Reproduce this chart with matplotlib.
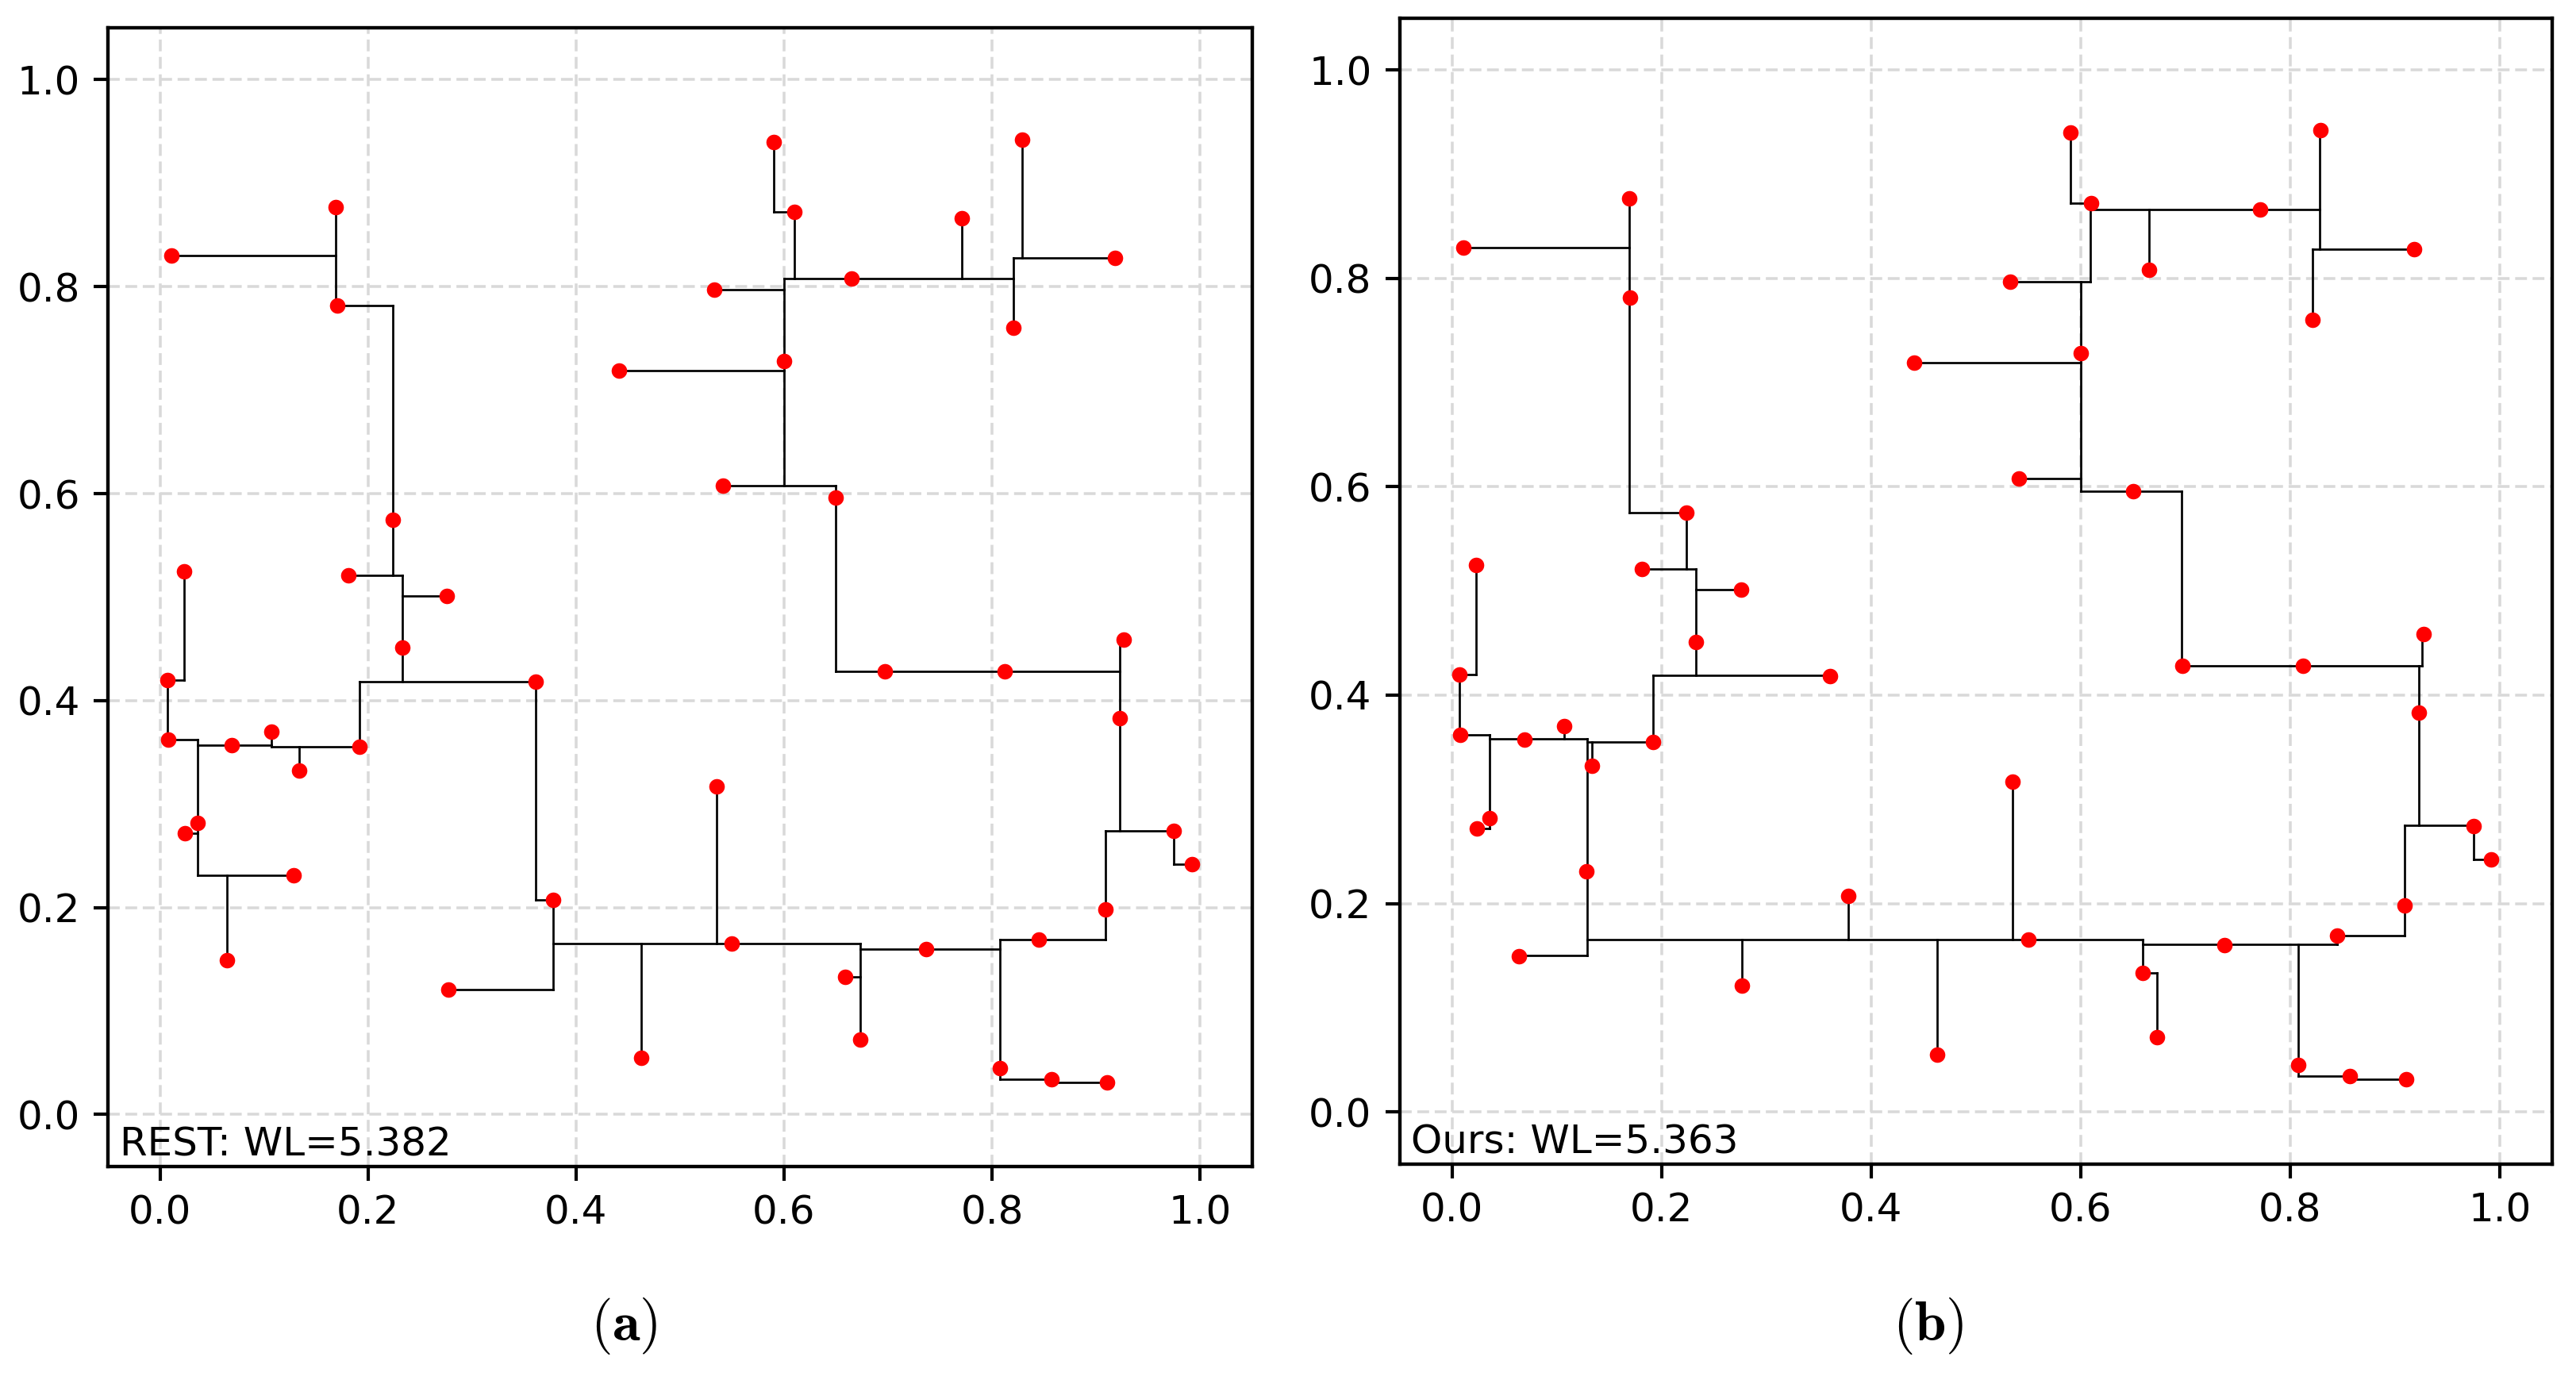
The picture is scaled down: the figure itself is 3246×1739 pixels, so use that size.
import matplotlib
matplotlib.use("Agg")
import matplotlib.pyplot as plt
import numpy as np

# ---- pins (same net in both panels) ----
pin_x = [0.011, 0.169, 0.170, 0.224, 0.181, 0.276, 0.023, 0.441, 0.590, 0.610,
         0.771, 0.829, 0.918, 0.821, 0.665, 0.533, 0.600, 0.541, 0.650, 0.007,
         0.008, 0.069, 0.107, 0.134, 0.192, 0.233, 0.361, 0.378, 0.036, 0.024,
         0.128, 0.064, 0.277, 0.463, 0.535, 0.550, 0.659, 0.673, 0.737, 0.808,
         0.857, 0.911, 0.845, 0.909, 0.975, 0.992, 0.923, 0.927, 0.697, 0.812]
pin_y = [0.830, 0.877, 0.782, 0.575, 0.521, 0.501, 0.525, 0.719, 0.940, 0.872,
         0.866, 0.942, 0.828, 0.760, 0.808, 0.797, 0.728, 0.608, 0.596, 0.420,
         0.362, 0.357, 0.370, 0.332, 0.355, 0.451, 0.418, 0.207, 0.282, 0.272,
         0.231, 0.149, 0.121, 0.055, 0.317, 0.165, 0.133, 0.072, 0.160, 0.045,
         0.034, 0.031, 0.169, 0.198, 0.274, 0.242, 0.383, 0.459, 0.428, 0.428]

# ---- panel (a) REST tree: horizontal (y, x0, x1), vertical (x, y0, y1) ----
h_rest = [(0.830, 0.011, 0.169), (0.782, 0.170, 0.224), (0.521, 0.181, 0.233),
          (0.501, 0.233, 0.276), (0.719, 0.441, 0.600), (0.872, 0.590, 0.610),
          (0.808, 0.600, 0.821), (0.828, 0.821, 0.918), (0.797, 0.533, 0.600),
          (0.608, 0.541, 0.650), (0.420, 0.007, 0.023), (0.362, 0.008, 0.036),
          (0.357, 0.036, 0.107), (0.355, 0.107, 0.192), (0.418, 0.192, 0.361),
          (0.207, 0.361, 0.378), (0.272, 0.024, 0.036), (0.231, 0.036, 0.128),
          (0.121, 0.277, 0.378), (0.165, 0.378, 0.673), (0.160, 0.673, 0.808),
          (0.133, 0.659, 0.673), (0.169, 0.808, 0.909), (0.034, 0.808, 0.857),
          (0.031, 0.857, 0.911), (0.274, 0.909, 0.975), (0.242, 0.975, 0.992),
          (0.428, 0.650, 0.923)]
v_rest = [(0.169, 0.782, 0.877), (0.224, 0.521, 0.782), (0.233, 0.418, 0.521),
          (0.023, 0.420, 0.525), (0.007, 0.362, 0.420), (0.036, 0.231, 0.362),
          (0.064, 0.149, 0.231), (0.107, 0.355, 0.370), (0.134, 0.332, 0.355),
          (0.192, 0.355, 0.418), (0.361, 0.207, 0.418), (0.378, 0.121, 0.207),
          (0.463, 0.055, 0.165), (0.535, 0.165, 0.317), (0.673, 0.072, 0.165),
          (0.808, 0.034, 0.169), (0.909, 0.169, 0.274), (0.975, 0.242, 0.274),
          (0.923, 0.274, 0.459), (0.650, 0.428, 0.608), (0.600, 0.608, 0.808),
          (0.590, 0.872, 0.940), (0.610, 0.808, 0.872), (0.771, 0.808, 0.866),
          (0.821, 0.760, 0.828), (0.829, 0.828, 0.942), (0.857, 0.031, 0.034)]

# ---- panel (b) Ours tree ----
h_ours = [(0.830, 0.011, 0.169), (0.575, 0.169, 0.224), (0.521, 0.181, 0.233),
          (0.501, 0.233, 0.276), (0.719, 0.441, 0.600), (0.872, 0.590, 0.609),
          (0.866, 0.609, 0.828), (0.828, 0.821, 0.918), (0.797, 0.533, 0.609),
          (0.608, 0.541, 0.600), (0.596, 0.600, 0.696), (0.428, 0.696, 0.926),
          (0.275, 0.909, 0.975), (0.242, 0.975, 0.992), (0.169, 0.845, 0.909),
          (0.161, 0.659, 0.845), (0.165, 0.129, 0.659), (0.133, 0.659, 0.673),
          (0.034, 0.808, 0.857), (0.031, 0.857, 0.911), (0.419, 0.192, 0.361),
          (0.355, 0.129, 0.192), (0.358, 0.036, 0.129), (0.362, 0.008, 0.036),
          (0.420, 0.007, 0.023), (0.272, 0.024, 0.036), (0.150, 0.064, 0.129)]
v_ours = [(0.169, 0.575, 0.877), (0.224, 0.521, 0.575), (0.233, 0.419, 0.521),
          (0.023, 0.420, 0.525), (0.007, 0.362, 0.420), (0.036, 0.272, 0.362),
          (0.107, 0.358, 0.370), (0.129, 0.150, 0.358), (0.134, 0.332, 0.355),
          (0.192, 0.355, 0.419), (0.277, 0.121, 0.165), (0.378, 0.165, 0.207),
          (0.463, 0.055, 0.165), (0.535, 0.165, 0.317), (0.600, 0.596, 0.797),
          (0.590, 0.872, 0.940), (0.609, 0.797, 0.872), (0.665, 0.808, 0.866),
          (0.828, 0.828, 0.942), (0.821, 0.760, 0.828), (0.696, 0.428, 0.596),
          (0.926, 0.428, 0.459), (0.923, 0.275, 0.428), (0.909, 0.169, 0.275),
          (0.975, 0.242, 0.275), (0.845, 0.161, 0.169), (0.659, 0.133, 0.165),
          (0.673, 0.072, 0.133), (0.808, 0.034, 0.161), (0.857, 0.031, 0.034)]

labels = ["REST: WL=5.382", "Ours: WL=5.363"]
captions = [r"$(\mathbf{a})$", r"$(\mathbf{b})$"]
ticks = [0.0, 0.2, 0.4, 0.6, 0.8, 1.0]

plt.rcParams["mathtext.fontset"] = "cm"
plt.rcParams["font.family"] = "DejaVu Sans"

W, H = 3246, 1739
dpi = 300
fig = plt.figure(figsize=(W / dpi, H / dpi), dpi=dpi)

# axes boxes in pixels: left, right, top, bottom
boxes = [(136.3, 1577.5, 35.3, 1469.5), (1763.5, 3216.0, 22.7, 1466.7)]
caption_x = [786 / W, 2430 / W]

trees = [(h_rest, v_rest), (h_ours, v_ours)]
for i, (l, r, t, b) in enumerate(boxes):
    ax = fig.add_axes([l / W, 1 - b / H, (r - l) / W, (b - t) / H])
    ax.set_xlim(-0.05, 1.05)
    ax.set_ylim(-0.05, 1.05)
    ax.set_xticks(ticks)
    ax.set_yticks(ticks)
    ax.tick_params(labelsize=12, length=4.4, width=1.0, pad=4)
    for s in ax.spines.values():
        s.set_linewidth(1.05)
    ax.grid(True, color="#d9d9d9", linewidth=0.85, linestyle=(0, (4.2, 2.0)))
    ax.set_axisbelow(True)

    hs, vs = trees[i]
    hy = [s[0] for s in hs]; hx0 = [s[1] for s in hs]; hx1 = [s[2] for s in hs]
    vx = [s[0] for s in vs]; vy0 = [s[1] for s in vs]; vy1 = [s[2] for s in vs]
    lc1 = ax.hlines(hy, hx0, hx1, colors="black", linewidth=0.65, zorder=2)
    lc2 = ax.vlines(vx, vy0, vy1, colors="black", linewidth=0.65, zorder=2)
    lc1.set_capstyle("projecting")
    lc2.set_capstyle("projecting")

    ax.plot(pin_x, pin_y, linestyle="none", marker="o", color="red",
            markersize=4.7, markeredgewidth=0, zorder=3)

    ax.text(0.01, 0.009, labels[i], transform=ax.transAxes, fontsize=12,
            ha="left", va="baseline", zorder=4)

    fig.text(caption_x[i], 1 - 1671 / H, captions[i], fontsize=17,
             ha="center", va="center")

fig.savefig("out.png", dpi=dpi)
